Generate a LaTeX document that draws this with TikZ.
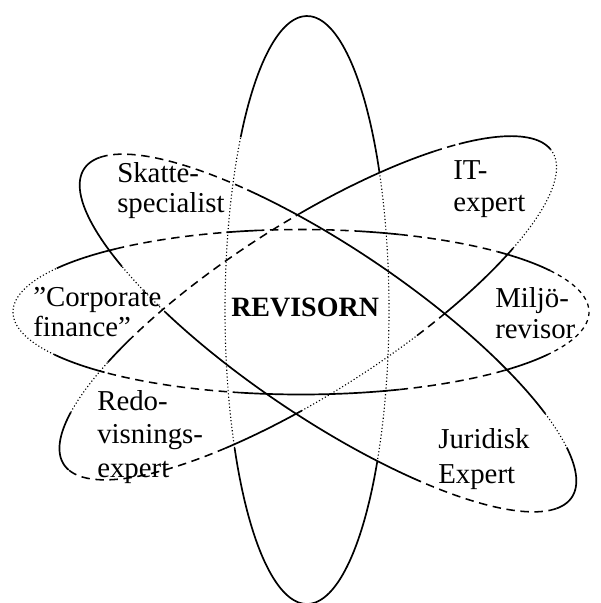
\documentclass[tikz,border=0pt]{standalone}
\usepackage{fontspec}
\setmainfont{Liberation Serif}
\usepackage{tikz}

\begin{document}
\begin{tikzpicture}[
  x=0.025cm, y=-0.025cm,
  solidline/.style={line width=1.2pt},
  dottedline/.style={line width=0.8pt, dash pattern=on 0.8pt off 1.6pt},
  dashedline/.style={line width=1.1pt, dash pattern=on 6pt off 4pt},
  shortdash/.style={line width=0.9pt, dash pattern=on 3pt off 3pt},
  lbl/.style={font=\fontsize{20.5}{#1}\selectfont, align=left,
    anchor=north west, inner sep=0pt},
  lbl/.default=22.8,
]
\useasboundingbox (0,0) rectangle (600,603);

% vertical orbit
\begin{scope}[shift={(307,310)}]
  \foreach \from/\to/\look in {31/152/solidline, 152/216/dottedline,
                               216/332/solidline, 332/391/dottedline}
    \draw[\look] plot[domain=\from:\to, samples=40, smooth] ({82*cos(\x)}, {294*sin(\x)});
\end{scope}

% horizontal orbit
\begin{scope}[shift={(301,312)}]
  \foreach \from/\to/\look in {-30/31/shortdash, 31/45/solidline, 45/70/dashedline,
                               70/102/solidline, 102/133/dashedline, 133/149/solidline,
                               149/212/dottedline, 212/230/solidline, 230/255/dashedline,
                               255/261/solidline, 261/282/dashedline, 282/290/solidline,
                               290/313/dashedline, 313/330/solidline}
    \draw[\look] plot[domain=\from:\to, samples=30, smooth] ({288*cos(\x)}, {82.5*sin(\x)});
\end{scope}

% orbit Skatte -- Juridisk
\begin{scope}[shift={(328,333)}, rotate=-34]
  \foreach \from/\to/\look in {12/57/dashedline, 57/120/solidline, 120/135/dottedline,
                               135/192/solidline, 192/240/dashedline, 240/320/solidline,
                               320/333/dottedline, 333/372/solidline}
    \draw[\look] plot[domain=\from:\to, samples=30, smooth] ({294*cos(\x)}, {85*sin(\x)});
\end{scope}

% orbit Redovisning -- IT
\begin{scope}[shift={(308,308)}, rotate=32.6]
  \foreach \from/\to/\look in {-2/45/dottedline, 45/67/solidline, 67/75/dashedline,
                               75/102/dottedline, 102/120/solidline, 120/175/dashedline,
                               175/208/solidline, 208/227/dottedline, 227/234/solidline,
                               234/279/dashedline, 279/311/solidline, 311/318/dashedline,
                               318/358/solidline}
    \draw[\look] plot[domain=\from:\to, samples=30, smooth] ({290*cos(\x)}, {85*sin(\x)});
\end{scope}

% texts
\node[lbl=21.3] (skatte) at (117,162) {Skatte-\\specialist};
\node[lbl]      (it)     at (453,160) {IT-\\expert};
\node[lbl=21.3] (corp)   at (33,287)  {”Corporate\\finance”};
\node[lbl=22]   (miljo)  at (495,287) {Miljö-\\revisor};
\node[lbl=23.8] (redo)   at (97,390)  {Redo-\\visnings-\\expert};
\node[lbl=24.9] (jur)    at (438,428) {Juridisk\\Expert};
\node[anchor=north west, inner sep=0pt, font=\fontsize{19.9}{23}\selectfont\bfseries]
  (revisorn) at (231,298) {REVISORN};

\end{tikzpicture}
\end{document}
